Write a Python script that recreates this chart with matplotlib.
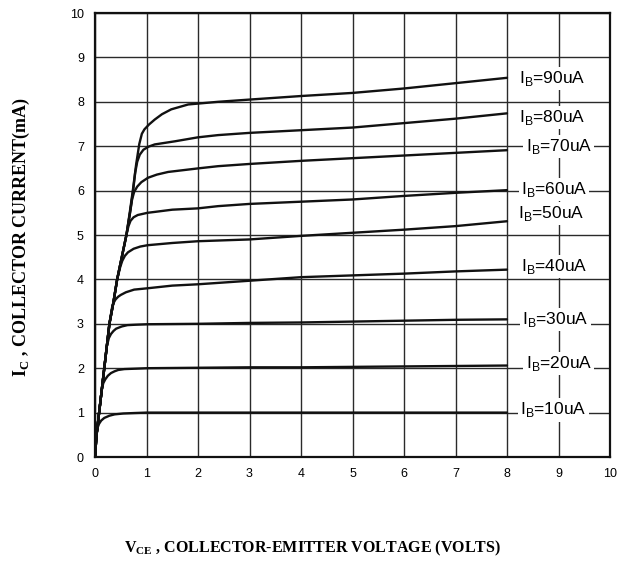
import numpy as np
import matplotlib
matplotlib.use("Agg")
import matplotlib.pyplot as plt

# base current of each curve, in uA
ib_values = [10, 20, 30, 40, 50, 60, 70, 80, 90]

# curves (V_CE in volts, I_C in mA)
vce_10 = [0, 0.02, 0.05, 0.08, 0.12, 0.18, 0.28, 0.38, 0.55, 0.76, 1.0, 2, 3, 4, 5, 6, 7, 8]
ic_10 = [0, 0.40, 0.66, 0.75, 0.82, 0.88, 0.93, 0.96, 0.98, 0.99, 1.0, 1.0, 1.0, 1.0, 1.0, 1.0, 1.0, 1.0]

vce_20 = [0, 0.03, 0.08, 0.13, 0.16, 0.20, 0.25, 0.31, 0.38, 0.45, 0.57, 0.80, 1.02, 2, 3, 4, 5, 6, 7, 8]
ic_20 = [0, 0.5, 1.0, 1.5, 1.66, 1.75, 1.83, 1.89, 1.93, 1.96, 1.98, 1.99, 2.0, 2.01, 2.02, 2.02, 2.03, 2.04, 2.05, 2.06]

vce_30 = [0, 0.03, 0.08, 0.13, 0.18, 0.23, 0.27, 0.31, 0.36, 0.41, 0.52, 0.63, 0.80, 1.02, 2, 3, 4, 5, 6, 7, 8]
ic_30 = [0, 0.5, 1.0, 1.5, 2.0, 2.5, 2.68, 2.77, 2.84, 2.89, 2.94, 2.97, 2.98, 2.99, 3.0, 3.02, 3.03, 3.05, 3.07, 3.09, 3.1]

vce_40 = [0, 0.03, 0.08, 0.13, 0.18, 0.23, 0.28, 0.33, 0.36, 0.40, 0.45, 0.50, 0.60, 0.76, 1.02, 1.5, 2, 3, 4, 5, 6, 7, 8]
ic_40 = [0, 0.5, 1.0, 1.5, 2.0, 2.5, 3.0, 3.36, 3.47, 3.55, 3.61, 3.65, 3.71, 3.77, 3.80, 3.86, 3.89, 3.97, 4.05, 4.09, 4.13, 4.18, 4.22]

vce_50 = [0, 0.03, 0.08, 0.13, 0.18, 0.23, 0.28, 0.36, 0.43, 0.49, 0.53, 0.58, 0.64, 0.75, 0.88, 1.02, 1.5, 2, 3, 4, 5, 6, 7, 8]
ic_50 = [0, 0.5, 1.0, 1.5, 2.0, 2.5, 3.0, 3.5, 4.0, 4.28, 4.42, 4.53, 4.61, 4.69, 4.74, 4.77, 4.82, 4.86, 4.90, 4.98, 5.05, 5.12, 5.20, 5.31]

vce_60 = [0, 0.03, 0.08, 0.13, 0.18, 0.23, 0.28, 0.36, 0.43, 0.52, 0.61, 0.65, 0.69, 0.75, 0.83, 1.02, 1.16, 1.5, 2, 2.39, 3, 4, 5, 6, 7, 8]
ic_60 = [0, 0.5, 1.0, 1.5, 2.0, 2.5, 3.0, 3.5, 4.0, 4.5, 5.0, 5.2, 5.32, 5.40, 5.45, 5.50, 5.52, 5.57, 5.60, 5.65, 5.70, 5.75, 5.80, 5.88, 5.95, 6.01]

vce_70 = [0, 0.03, 0.08, 0.13, 0.18, 0.23, 0.28, 0.36, 0.43, 0.52, 0.61, 0.68, 0.72, 0.76, 0.82, 0.90, 1.03, 1.2, 1.42, 2, 2.39, 3, 4, 5, 6, 7, 8]
ic_70 = [0, 0.5, 1.0, 1.5, 2.0, 2.5, 3.0, 3.5, 4.0, 4.5, 5.0, 5.5, 5.8, 5.97, 6.09, 6.19, 6.29, 6.36, 6.42, 6.50, 6.55, 6.60, 6.67, 6.73, 6.79, 6.85, 6.91]

vce_80 = [0, 0.03, 0.08, 0.13, 0.18, 0.23, 0.28, 0.36, 0.43, 0.52, 0.61, 0.68, 0.74, 0.78, 0.82, 0.87, 0.94, 1.04, 1.16, 1.55, 2, 2.39, 3, 4, 5, 6, 7, 8]
ic_80 = [0, 0.5, 1.0, 1.5, 2.0, 2.5, 3.0, 3.5, 4.0, 4.5, 5.0, 5.5, 6.0, 6.4, 6.65, 6.81, 6.92, 6.99, 7.04, 7.11, 7.20, 7.25, 7.30, 7.36, 7.42, 7.52, 7.62, 7.74]

vce_90 = [0, 0.03, 0.08, 0.13, 0.18, 0.23, 0.28, 0.36, 0.43, 0.52, 0.61, 0.68, 0.74, 0.80, 0.86, 0.91, 0.96, 1.05, 1.16, 1.30, 1.48, 1.81, 2.39, 3, 4, 5, 6, 7, 8]
ic_90 = [0, 0.5, 1.0, 1.5, 2.0, 2.5, 3.0, 3.5, 4.0, 4.5, 5.0, 5.55, 6.05, 6.6, 7.05, 7.28, 7.38, 7.49, 7.60, 7.72, 7.83, 7.94, 8.0, 8.05, 8.13, 8.20, 8.30, 8.42, 8.54]

vce_curves = [vce_10, vce_20, vce_30, vce_40, vce_50, vce_60, vce_70, vce_80, vce_90]
ic_curves = [ic_10, ic_20, ic_30, ic_40, ic_50, ic_60, ic_70, ic_80, ic_90]

# where each I_B label sits (volts, mA)
label_x = [8.26, 8.36, 8.30, 8.28, 8.21, 8.27, 8.36, 8.23, 8.23]
label_y = [1.06, 2.11, 3.09, 4.29, 5.49, 6.03, 6.99, 7.65, 8.53]

x_ticks = list(range(0, 11))
y_ticks = list(range(0, 11))

fig = plt.figure(figsize=(6.21, 5.64), dpi=100)
ax = fig.add_axes([95 / 621, 1 - 457 / 564, 515 / 621, 444 / 564])

ax.set_xlim(0, 10)
ax.set_ylim(0, 10)
ax.set_xticks(x_ticks)
ax.set_yticks(y_ticks)
ax.tick_params(length=0, labelsize=9, pad=8)
for lbl in ax.get_xticklabels() + ax.get_yticklabels():
    lbl.set_family("Liberation Sans")
ax.grid(True, color="#2a2a2a", linewidth=1.0)
ax.set_axisbelow(True)
for sp in ax.spines.values():
    sp.set_linewidth(1.6)
    sp.set_color("#111111")

for vce, ic in zip(vce_curves, ic_curves):
    ax.plot(vce, ic, color="#111111", linewidth=1.7, solid_joinstyle="round",
            solid_capstyle="round", zorder=3)

for ib, lx, ly in zip(ib_values, label_x, label_y):
    ax.text(lx, ly, r"I$_{\mathregular{B}}$=%duA" % ib, fontsize=12.5,
            family="Liberation Sans", va="center", ha="left", zorder=4,
            bbox=dict(facecolor="white", edgecolor="none", pad=1.5))

plt.rcParams["mathtext.fontset"] = "custom"
plt.rcParams["mathtext.rm"] = "Liberation Serif:bold"
fig.text(313 / 621, 1 - 548 / 564, r"V$_{\mathregular{CE}}$ , COLLECTOR-EMITTER VOLTAGE (VOLTS)",
         ha="center", va="center", family="Liberation Serif", weight="bold", fontsize=11.5)
fig.text(21 / 621, 1 - 237 / 564, r"I$_{\mathregular{C}}$ , COLLECTOR CURRENT(mA)",
         ha="center", va="center", rotation=90, family="Liberation Serif", weight="bold",
         fontsize=13)

fig.savefig("out.png", dpi=100)
